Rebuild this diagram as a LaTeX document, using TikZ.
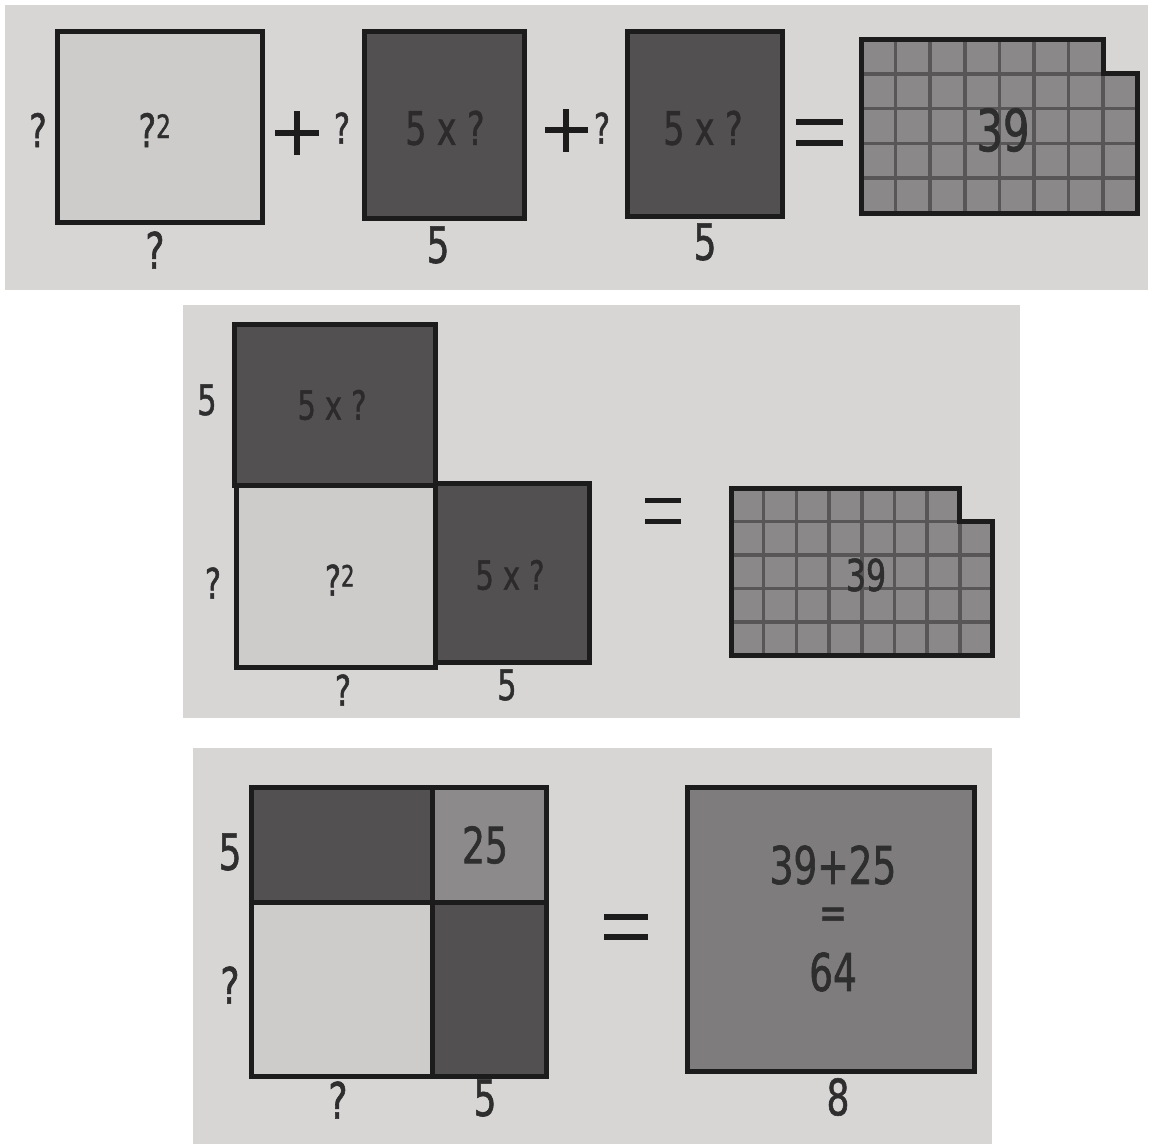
\documentclass[tikz,border=0pt]{standalone}
\usepackage{fontspec}
\setmainfont{DejaVu Sans}[FakeStretch=0.72,FakeBold=1.2]
\definecolor{panelbg}{HTML}{D8D5D5}
\definecolor{lightfill}{HTML}{CECBCB}
\definecolor{darkfill}{HTML}{525050}
\definecolor{midfill}{HTML}{8C8A8A}
\definecolor{bigfill}{HTML}{7E7C7C}
\definecolor{cellfill}{HTML}{8A8888}
\definecolor{cellline}{HTML}{585656}
\definecolor{edge}{HTML}{1C1C1C}
\definecolor{ink}{HTML}{2E2E2E}
\definecolor{inkdark}{HTML}{2C2A2A}
\tikzset{
  box/.style={draw=edge, line width=5pt},
  sign/.style={draw=edge, line width=6pt},
  lab/.style={text=ink, inner sep=0pt, font=\fontsize{50}{50}\selectfont},
  labm/.style={text=ink, inner sep=0pt, font=\fontsize{46}{46}\selectfont},
  labs/.style={text=ink, inner sep=0pt, font=\fontsize{42}{42}\selectfont},
  inlab/.style={text=inkdark, inner sep=0pt, font=\fontsize{46}{46}\selectfont},
  inlabs/.style={text=inkdark, inner sep=0pt, font=\fontsize{40}{40}\selectfont},
  gridrule/.style={draw=cellline, line width=3.5pt},
}
\newcommand\cellgrid[4]{%
  \begin{scope}[shift={(#1,#2)},x=#3pt,y=-#4pt]
    \fill[cellfill] (0,0) -- (7,0) -- (7,1) -- (8,1) -- (8,5) -- (0,5) -- cycle;
    \begin{scope}
      \clip (0,0) -- (7,0) -- (7,1) -- (8,1) -- (8,5) -- (0,5) -- cycle;
      \foreach \i in {1,...,7} {\draw[gridrule] (\i,0) -- (\i,5);}
      \foreach \j in {1,...,4} {\draw[gridrule] (0,\j) -- (8,\j);}
    \end{scope}
    \draw[box] (0,0) -- (7,0) -- (7,1) -- (8,1) -- (8,5) -- (0,5) -- cycle;
  \end{scope}}
\newcommand\sq{?\textsuperscript{2}}
\begin{document}
\begin{tikzpicture}[x=1pt,y=-1pt]
\useasboundingbox (0,0) rectangle (1155,1144);
% panels
\fill[panelbg] (5,5) rectangle (1148,290);
\fill[panelbg] (183,305) rectangle (1020,718);
\fill[panelbg] (193,748) rectangle (992,1144);

% ---------- panel 1 ----------
\draw[box, fill=lightfill] (57,31) rectangle (262,222);
\draw[box, fill=darkfill] (364,31) rectangle (524,218);
\draw[box, fill=darkfill] (627,31) rectangle (782,216);
\cellgrid{861}{39}{34.6}{34.8}
\draw[sign] (275,133) -- (319,133);
\draw[sign] (297,111) -- (297,155);
\draw[sign] (545,130) -- (588,130);
\draw[sign] (566,109) -- (566,152);
\draw[sign] (796,122) -- (843,122);
\draw[sign] (796,143) -- (843,143);
\node[labm] (aq) at (38,130) {?};
\node[labm] (asq) at (155,130) {\sq};
\node[lab] (aqb) at (155,250) {?};
\node[labs] (aq2) at (342,128) {?};
\node[inlab] (ar2) at (445,128) {5 x ?};
\node[lab] (ab2) at (438,245) {5};
\node[labs] (aq3) at (602,128) {?};
\node[inlab] (ar3) at (703,128) {5 x ?};
\node[lab] (ab3) at (705,242) {5};
\node[text=ink, inner sep=0pt, font=\fontsize{58}{58}\selectfont] (ag) at (1003,130) {39};

% ---------- panel 2 ----------
\draw[box, fill=darkfill] (234,324) rectangle (435,485);
\draw[box, fill=lightfill] (236,485) rectangle (435,667);
\draw[box, fill=darkfill] (435,483) rectangle (589,662);
\cellgrid{731}{488}{32.7}{33.5}
\draw[sign, line width=5pt] (645,500) -- (681,500);
\draw[sign, line width=5pt] (645,521) -- (681,521);
\node[labs] (b5) at (207,400) {5};
\node[inlabs] (btop) at (332,405) {5 x ?};
\node[labs] (bq) at (213,583) {?};
\node[labs] (bsq) at (340,580) {\sq};
\node[inlabs] (bright) at (510,575) {5 x ?};
\node[labs] (bqb) at (343,690) {?};
\node[labs] (b5b) at (507,685) {5};
\node[text=ink, inner sep=0pt, font=\fontsize{44}{44}\selectfont] (bg) at (866,575) {39};

% ---------- panel 3 ----------
\fill[darkfill] (251,787) rectangle (432,902);
\fill[midfill] (432,787) rectangle (546,902);
\fill[lightfill] (251,902) rectangle (432,1076);
\fill[darkfill] (432,902) rectangle (546,1075);
\draw[box] (251,787) rectangle (546,1076);
\draw[box] (432,787) -- (432,1076);
\draw[box] (251,902) -- (546,902);
\draw[box, fill=bigfill] (687,787) rectangle (974,1071);
\draw[sign] (604,917) -- (648,917);
\draw[sign] (604,937) -- (648,937);
\node[lab] (c5) at (230,852) {5};
\node[lab] (cq) at (230,985) {?};
\node[inlab, text=ink, font=\fontsize{50}{50}\selectfont] (c25) at (485,845) {25};
\node[lab] (cqb) at (338,1100) {?};
\node[lab] (c5b) at (485,1098) {5};
\node[inlab, text=ink, font=\fontsize{52}{52}\selectfont] (csum) at (833,865) {39+25};
\node[inlab, text=ink, font=\fontsize{46}{46}\selectfont] (ceq) at (833,918) {=};
\node[inlab, text=ink, font=\fontsize{52}{52}\selectfont] (c64) at (833,972) {64};
\node[lab] (c8) at (838,1097) {8};
\end{tikzpicture}
\end{document}
